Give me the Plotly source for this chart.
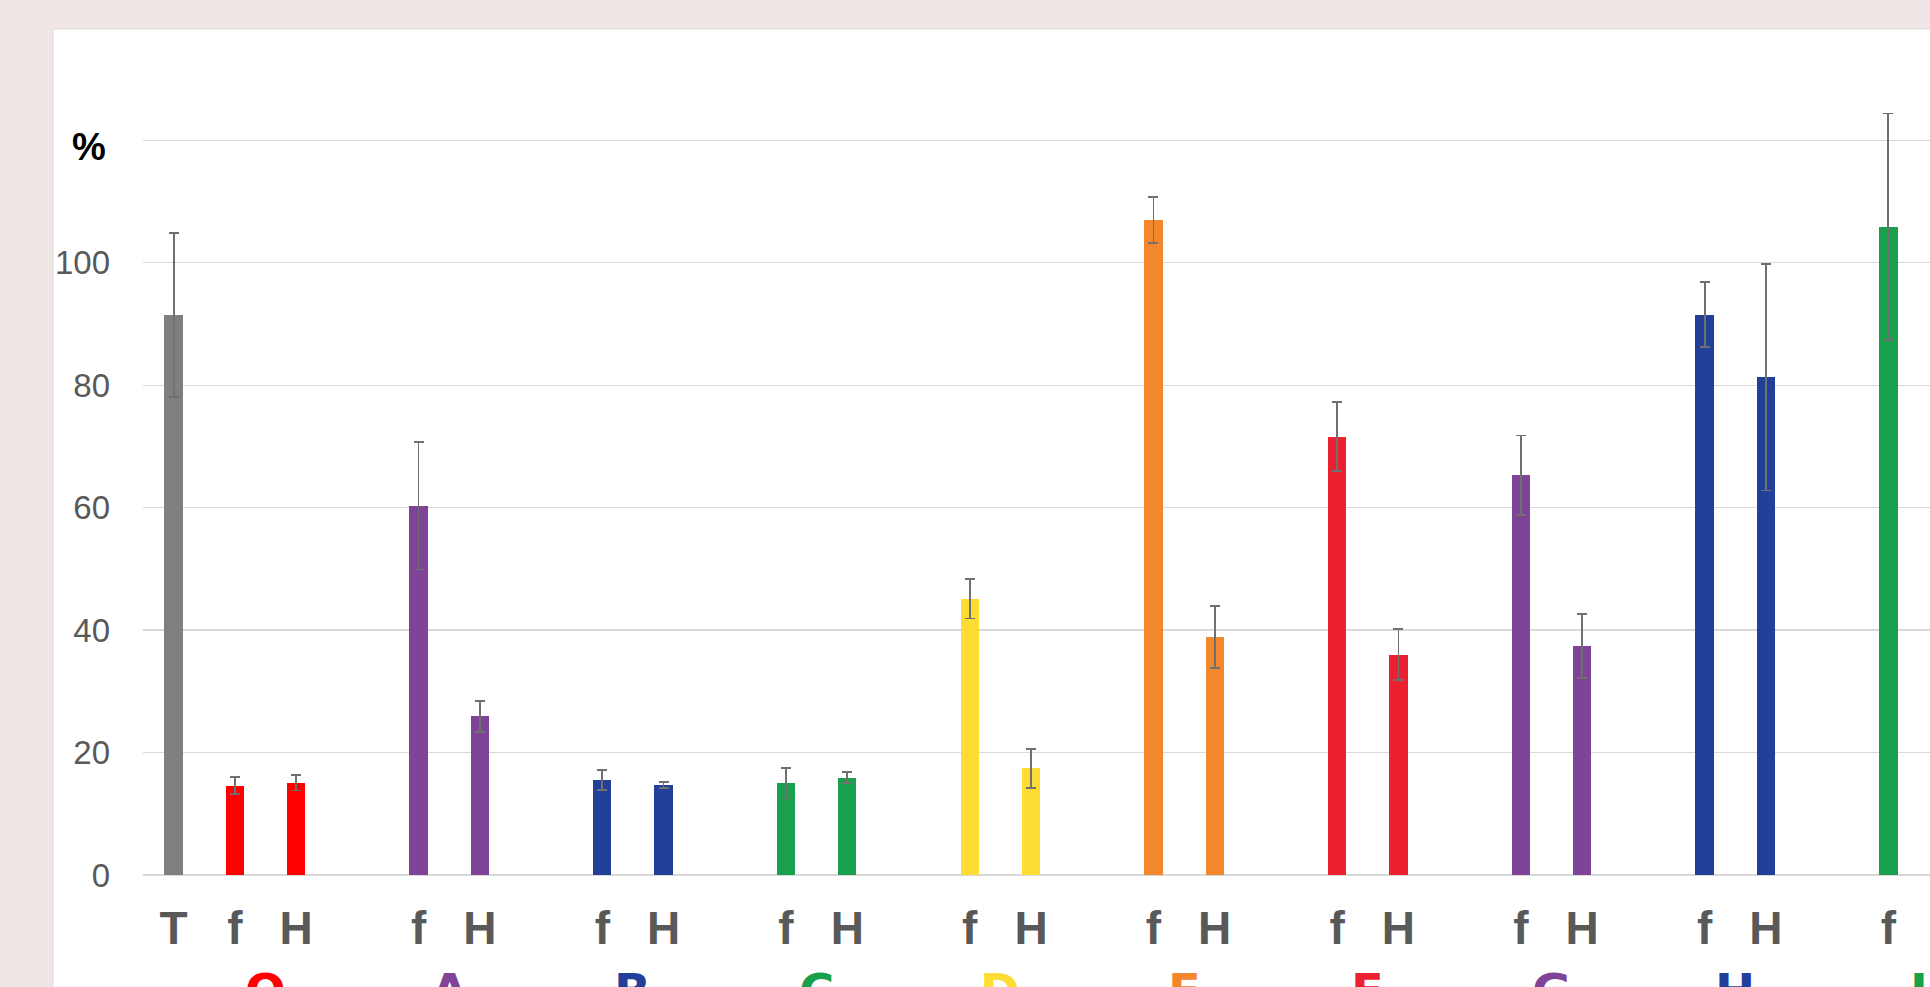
import plotly.graph_objects as go

# ---- data ----
groups = ["O", "A", "B", "C", "D", "E", "F", "G", "H", "I"]
group_colors = ["#FF0000", "#7F4397", "#22409A", "#19A04D", "#FDDC35",
                "#F2872D", "#EB2030", "#7F4397", "#22409A", "#19A04D"]
control_label = "T"
control_value = 91.5
control_err = 13.4
control_color = "#7F7F7F"
f_values = [14.6, 60.3, 15.5, 15.0, 45.1, 107.0, 71.6, 65.3, 91.5, 105.9]
f_errors = [1.4, 10.4, 1.6, 2.5, 3.2, 3.8, 5.6, 6.5, 5.3, 18.5]
h_values = [15.1, 25.9, 14.7, 15.9, 17.4, 38.9, 36.0, 37.4, 81.3]
h_errors = [1.3, 2.5, 0.5, 0.9, 3.2, 5.1, 4.2, 5.2, 18.5]
y_ticks = [0, 20, 40, 60, 80, 100, 120]
y_ticktext = ["0", "20", "40", "60", "80", "100", ""]
unit_label = "%"

# ---- slot positions (T, then f/H pairs separated by a gap) ----
pos_T = 0
pos_f = [1 + 3 * i for i in range(len(groups))]
pos_h = [2 + 3 * i for i in range(len(h_values))]

err_style = dict(type="data", color="#707070", thickness=1.8, width=5)
BAR_W = 0.3

fig = go.Figure()
fig.add_trace(go.Bar(
    x=[pos_T], y=[control_value], width=BAR_W,
    marker=dict(color=control_color, line=dict(width=0)),
    error_y=dict(array=[control_err], **err_style), showlegend=False))
fig.add_trace(go.Bar(
    x=pos_f, y=f_values, width=BAR_W,
    marker=dict(color=group_colors, line=dict(width=0)),
    error_y=dict(array=f_errors, **err_style), showlegend=False))
fig.add_trace(go.Bar(
    x=pos_h, y=h_values, width=BAR_W,
    marker=dict(color=group_colors[:len(h_values)], line=dict(width=0)),
    error_y=dict(array=h_errors, **err_style), showlegend=False))

tickvals = [pos_T] + pos_f + pos_h
ticktext = [control_label] + ["f"] * len(pos_f) + ["H"] * len(pos_h)

W, H = 1930, 987
ML, MR, MT, MB = 143, 0, 110, 112
plot_w = W - ML - MR
plot_h = H - MT - MB

def px_to_paper_x(px):
    return (px - ML) / plot_w

def px_to_paper_y(py):
    return (H - MB - py) / plot_h

annotations = []
for i, g in enumerate(groups):
    annotations.append(dict(
        x=pos_f[i] + 0.5, xref="x", y=px_to_paper_y(961), yref="paper",
        text=g, showarrow=False, yanchor="top", xanchor="center",
        font=dict(family="DejaVu Sans, sans-serif", size=48,
                  color=group_colors[i], weight=700)))
annotations.append(dict(
    x=px_to_paper_x(89), xref="paper", y=118.9, yref="y",
    text=unit_label, showarrow=False, xanchor="center", yanchor="middle",
    font=dict(family="Liberation Sans, Arial, sans-serif", size=38,
              color="#000000", weight=700)))

shapes = [dict(
    type="rect", xref="paper", yref="paper", layer="below",
    x0=px_to_paper_x(53), x1=1.05, y0=-0.3, y1=px_to_paper_y(29),
    fillcolor="#FFFFFF", line=dict(color="#DADADA", width=1))]

fig.update_layout(
    width=W, height=H,
    margin=dict(l=ML, r=MR, t=MT, b=MB, pad=0),
    paper_bgcolor="#EFE6E5",
    plot_bgcolor="rgba(0,0,0,0)",
    bargap=0,
    shapes=shapes,
    annotations=annotations,
    font=dict(family="Liberation Sans, Arial, sans-serif", color="#595959"),
    xaxis=dict(
        range=[-0.5, 28.68], tickmode="array", tickvals=tickvals, ticktext=ticktext,
        showgrid=False, zeroline=False, showline=False, ticks="",
        tickfont=dict(size=46, color="#595959", weight=700),
        ticklabelstandoff=22, fixedrange=True),
    yaxis=dict(
        range=[0, plot_h / 6.122], tickmode="array", tickvals=y_ticks, ticktext=y_ticktext,
        showgrid=True, gridcolor="#D9D9D9", gridwidth=1.3,
        zeroline=True, zerolinecolor="#D9D9D9", zerolinewidth=1.3,
        showline=False, ticks="",
        tickfont=dict(size=33, color="#595959"),
        ticklabelstandoff=32, fixedrange=True),
)

fig.write_html(
    "out.html",
    config={"displayModeBar": False, "staticPlot": True},
    post_script="document.body.style.margin='0';document.body.style.overflow='hidden';"
                "document.body.style.background='#EFE6E5';",
)
